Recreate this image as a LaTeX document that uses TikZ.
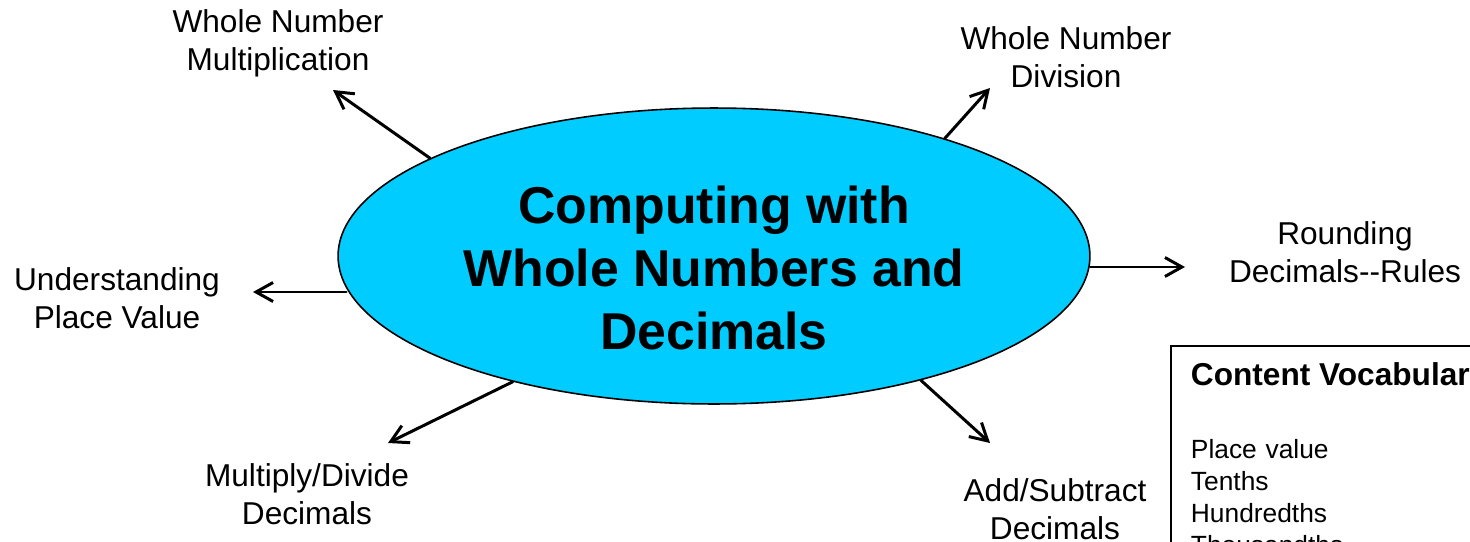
\documentclass[tikz,border=0pt]{standalone}
\usepackage{fontspec}
\setmainfont{Liberation Sans}
\usetikzlibrary{shapes.geometric,arrows.meta}
\definecolor{hubblue}{RGB}{0,204,255}

\begin{document}
\begin{tikzpicture}[x=0.02cm, y=-0.02cm, >={Straight Barb[length=3.4mm,width=3.8mm]},
    topic/.style={align=center, inner sep=0pt, font=\fontsize{18}{21.5}\selectfont},
    link/.style={->, line width=1.7pt, line cap=round}]
  \useasboundingbox (0,0) rectangle (1470,541);
  \clip (0,0) rectangle (1470,541);

  % central idea
  \node[ellipse, draw, line width=0.9pt, fill=hubblue, inner sep=0pt,
        minimum width=15.04cm, minimum height=5.92cm] (hub) at (714,256) {};
  \node[align=center, font=\bfseries\fontsize{29.5}{36}\selectfont] (title) at (714,268)
    {Computing with\\Whole Numbers and\\Decimals};

  % topics round it
  \node[topic] (mult)   at (278,43)   {Whole Number\\Multiplication};
  \node[topic] (div)    at (1066,57)  {Whole Number\\Division};
  \node[topic] (rnd)    at (1345,252) {Rounding\\Decimals-{}-Rules};
  \node[topic] (place)  at (117,298)  {Understanding\\Place Value};
  \node[topic] (muldiv) at (307,494)  {Multiply/Divide\\Decimals};
  \node[topic] (addsub) at (1055,509) {Add/Subtract\\Decimals};

  \coordinate (multTip)   at (333,90);
  \coordinate (divTip)    at (990,88);
  \coordinate (rndTip)    at (1185,267);
  \coordinate (placeTip)  at (253,292);
  \coordinate (muldivTip) at (388,443);
  \coordinate (addsubTip) at (990,443);

  \draw[link] (hub.161)   -- (multTip);
  \draw[link] (hub.27)    -- (divTip);
  \draw[link] (rndTip -| hub.-1.7) -- (rndTip);
  \draw[link] (placeTip -| hub.185.6) -- (placeTip);
  \draw[link] (hub.212)   -- (muldivTip);
  \draw[link] (hub.-31.5) -- (addsubTip);

  % vocabulary box
  \node[draw, line width=1pt, anchor=north west, align=left, text width=9cm, text depth=5cm,
        inner xsep=11.4pt, inner ysep=9.7pt, font=\fontsize{15}{18.2}\selectfont] (vocab) at (1170,345)
    {{\bfseries\fontsize{18}{21}\selectfont Content Vocabulary}\\[23pt]
     Place value\\ Tenths\\ Hundredths\\ Thousandths};
\end{tikzpicture}
\end{document}
